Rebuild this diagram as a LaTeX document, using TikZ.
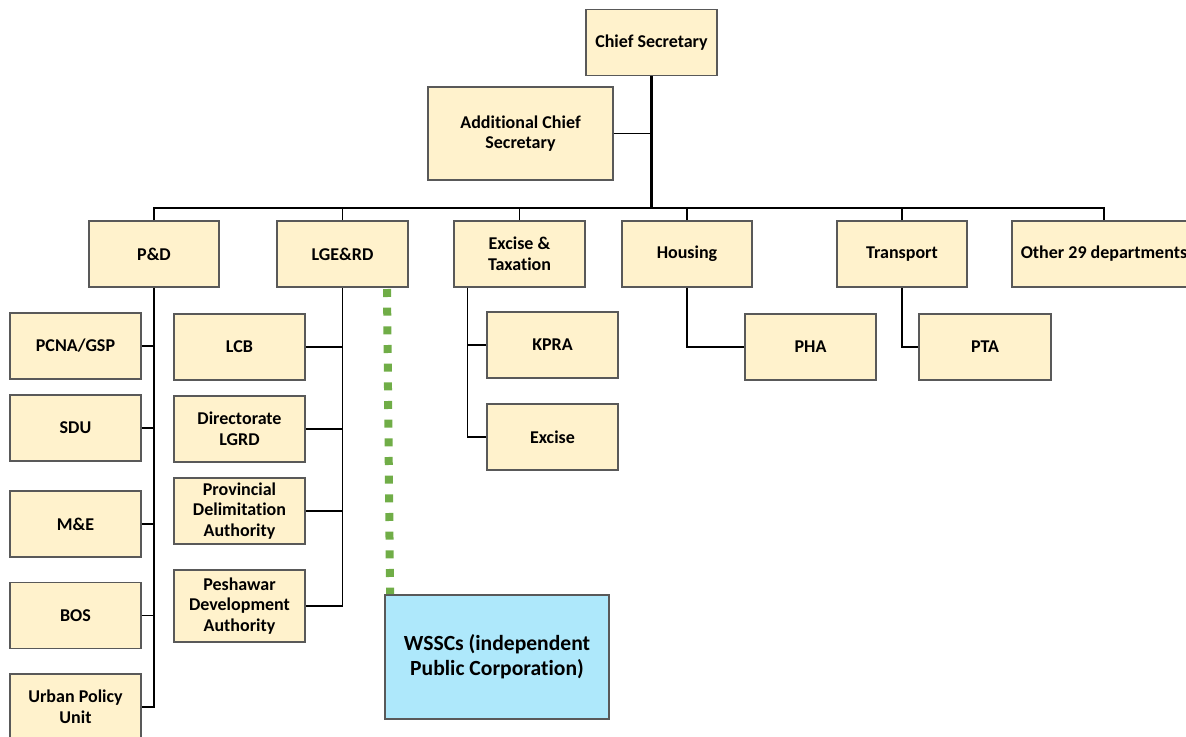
\documentclass[tikz,border=0pt]{standalone}
\usepackage{fontspec}
\setmainfont{Carlito}[Ligatures=NoCommon]
\usepackage{tikz}
\usetikzlibrary{calc}

\definecolor{boxfill}{HTML}{FFF2CC}
\definecolor{boxline}{HTML}{595959}
\definecolor{wsscfill}{HTML}{AEE8FB}
\definecolor{dotgreen}{HTML}{70AD47}

\tikzset{
  unit/.style={draw=boxline, fill=boxfill, line width=1.4pt, align=center,
    minimum width=98pt, minimum height=49.5pt, inner sep=2pt,
    font=\bfseries\fontsize{13.5}{15.4}\selectfont},
  link/.style={line width=0.9pt},
  trunk/.style={line width=1.6pt},
  greendots/.style={dotgreen, line width=6pt, dash pattern=on 6pt off 8pt}
}

\begin{document}
\begin{tikzpicture}[x=0.75pt, y=-0.75pt]

  \useasboundingbox (0,0) rectangle (1186,736);

  % top of the tree
  \node[unit] (chief) at (651.5,42.5) {Chief Secretary};
  \node[unit, minimum width=138.75pt, minimum height=69.75pt] (acs) at (520.5,133.5) {Additional Chief\\Secretary};

  % departments
  \node[unit] (pd)        at (154,254)   {P\&D};
  \node[unit] (lge)       at (342.5,254) {LGE\&RD};
  \node[unit] (excise)    at (519.5,254) {Excise \&\\Taxation};
  \node[unit] (housing)   at (687,254)   {Housing};
  \node[unit] (transport) at (902,254)   {Transport};
  \node[unit, minimum width=138pt] (other) at (1104,254) {Other 29 departments};

  % under P&D
  \node[unit] (pcna) at (75.5,346)   {PCNA/GSP};
  \node[unit] (sdu)  at (75.5,428)   {SDU};
  \node[unit] (me)   at (75.5,524)   {M\&E};
  \node[unit] (bos)  at (75.5,615.5) {BOS};
  \node[unit] (upu)  at (75.5,707)   {Urban Policy\\Unit};

  % under LGE&RD
  \node[unit] (lcb)   at (239.5,347) {LCB};
  \node[unit] (dlgrd) at (239.5,429) {Directorate\\LGRD};
  \node[unit] (pda)   at (239.5,511) {Provincial\\Delimitation\\Authority};
  \node[unit, minimum height=54pt] (peda) at (239.5,606) {Peshawar\\Development\\Authority};

  % under Excise, Housing, Transport
  \node[unit] (kpra)  at (552.5,345) {KPRA};
  \node[unit] (exdep) at (552.5,437) {Excise};
  \node[unit] (pha)   at (810.5,347) {PHA};
  \node[unit, minimum width=99pt] (pta) at (985,347) {PTA};

  \node[unit, fill=wsscfill, minimum width=168pt, minimum height=93pt,
        font=\bfseries\fontsize{16.2}{18.5}\selectfont] (wssc) at (497,657)
        {WSSCs (independent\\Public Corporation)};

  \coordinate (bus) at (652,208);

  \draw[trunk] (chief.south) -- (chief.south |- bus);
  \draw[link] (acs.east) -- (acs.east -| chief.south);
  \draw[line width=1.2pt] (pd.north) |- (bus) -| (other.north);
  \foreach \d in {lge,excise,housing,transport}
    \draw[link] (\d.north) -- (\d.north |- bus);

  % P&D branch
  \draw[link] (pd.south) |- (upu.east);
  \foreach \c in {pcna,sdu,me,bos}
    \draw[link] (\c.east) -- (\c.east -| pd.south);

  % LGE&RD branch
  \draw[link] (lge.south) |- (peda.east);
  \foreach \c in {lcb,dlgrd,pda}
    \draw[link] (\c.east) -- (\c.east -| lge.south);

  % Excise branch
  \coordinate (exdrop) at ($(excise.south west)+(14,0)$);
  \draw[link] (exdrop) |- (exdep.west);
  \draw[link] (kpra.west) -- (kpra.west -| exdrop);

  \draw[link] (housing.south) |- (pha.west);
  \draw[link] (transport.south) |- (pta.west);

  % WSSCs hang off LGE&RD
  \coordinate (tap) at (387,289);
  \draw[greendots] (tap) -- ($(wssc.north west)+(6,0)$);

\end{tikzpicture}
\end{document}
